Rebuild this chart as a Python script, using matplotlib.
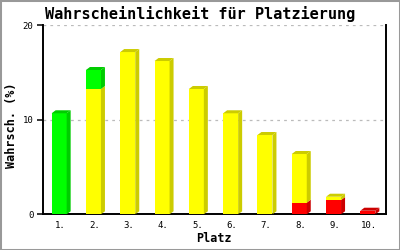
import matplotlib
matplotlib.use("Agg")
import matplotlib.pyplot as plt
from matplotlib.patches import Polygon, Rectangle
import numpy as np

categories = ["1.", "2.", "3.", "4.", "5.", "6.", "7.", "8.", "9.", "10."]
red_vals = [0, 0, 0, 0, 0, 0, 0, 1.23, 1.51, 0.38]
yellow_vals = [0, 13.26, 17.17, 16.22, 13.26, 10.69, 8.39, 5.15, 0.35, 0]
green_vals = [10.69, 2.01, 0, 0, 0, 0, 0, 0, 0, 0]
y_ticks = [0, 10, 20]

title = "Wahrscheinlichkeit für Platzierung"
xlabel = "Platz"
ylabel = "Wahrsch. (%)"

series = [
    (red_vals, "#ff0000", "#cc0000"),
    (yellow_vals, "#ffff00", "#cccc00"),
    (green_vals, "#00ff00", "#00cc00"),
]

W, H = 400, 250
fig = plt.figure(figsize=(4, 2.5), dpi=100)
fig.patch.set_facecolor("white")
fig.add_artist(Rectangle((0, 0), 1, 1, transform=fig.transFigure, fill=False,
                         edgecolor="#999999", linewidth=2.2))

left, right, top, bottom = 43, 386, 25.3, 214.3
ax = fig.add_axes([left / W, (H - bottom) / H, (right - left) / W, (bottom - top) / H])
ax.set_xlim(0.5, len(categories) + 0.5)
ax.set_ylim(0, 20)

px_x = (len(categories)) / (right - left)   # data units per pixel (x)
px_y = 20 / (bottom - top)                  # data units per pixel (y)
dx, dy = 4 * px_x, 3 * px_y
bw = 15 * px_x

x = np.arange(1, len(categories) + 1) - 1 * px_x
base = np.zeros(len(categories))
tops = np.array(red_vals) + np.array(yellow_vals) + np.array(green_vals)
for vals, front, side in series:
    vals = np.array(vals, dtype=float)
    ax.bar(x, vals, width=bw, bottom=base, color=front, linewidth=0, zorder=3)
    for xi, b, v, t in zip(x, base, vals, tops):
        if v <= 0:
            continue
        xl, xr = xi - bw / 2, xi + bw / 2
        t_seg = b + v
        ax.add_patch(Polygon([(xr, b), (xr + dx, b + dy), (xr + dx, t_seg + dy), (xr, t_seg)],
                             closed=True, facecolor=side, edgecolor="none", zorder=3))
        if abs(t_seg - t) < 1e-9:
            ax.add_patch(Polygon([(xl, t_seg), (xl + dx, t_seg + dy), (xr + dx, t_seg + dy), (xr, t_seg)],
                                 closed=True, facecolor=side, edgecolor="none", zorder=3))
    base = base + vals

# grid
for yt in y_ticks[1:]:
    ax.axhline(yt, color="#bbbbbb", linewidth=0.9, dashes=(2.2, 3.3), zorder=1)

ax.set_xticks(np.arange(1, len(categories) + 1))
ax.set_xticklabels(categories, family="DejaVu Sans Mono", fontsize=6.5)
ax.set_yticks(y_ticks)
ax.set_yticklabels([str(v) for v in y_ticks], family="DejaVu Sans Mono", fontsize=6.5)
ax.tick_params(axis="x", length=0, pad=5)
ax.tick_params(axis="y", length=4, width=1.1, pad=3, direction="out")
for s in ["left", "right", "bottom"]:
    ax.spines[s].set_linewidth(1.4)
    ax.spines[s].set_color("black")
ax.spines["top"].set_visible(False)

fig.text(200 / W, 1 - 14 / H, title, ha="center", va="center",
         family="DejaVu Sans Mono", fontsize=11, fontweight="bold")
fig.text(214 / W, 1 - 238 / H, xlabel, ha="center", va="center",
         family="DejaVu Sans Mono", fontsize=8.5, fontweight="bold")
fig.text(12 / W, 1 - 125 / H, ylabel, ha="center", va="center", rotation=90,
         family="DejaVu Sans Mono", fontsize=8.5, fontweight="bold")

fig.savefig("out.png", dpi=100, facecolor="white")
